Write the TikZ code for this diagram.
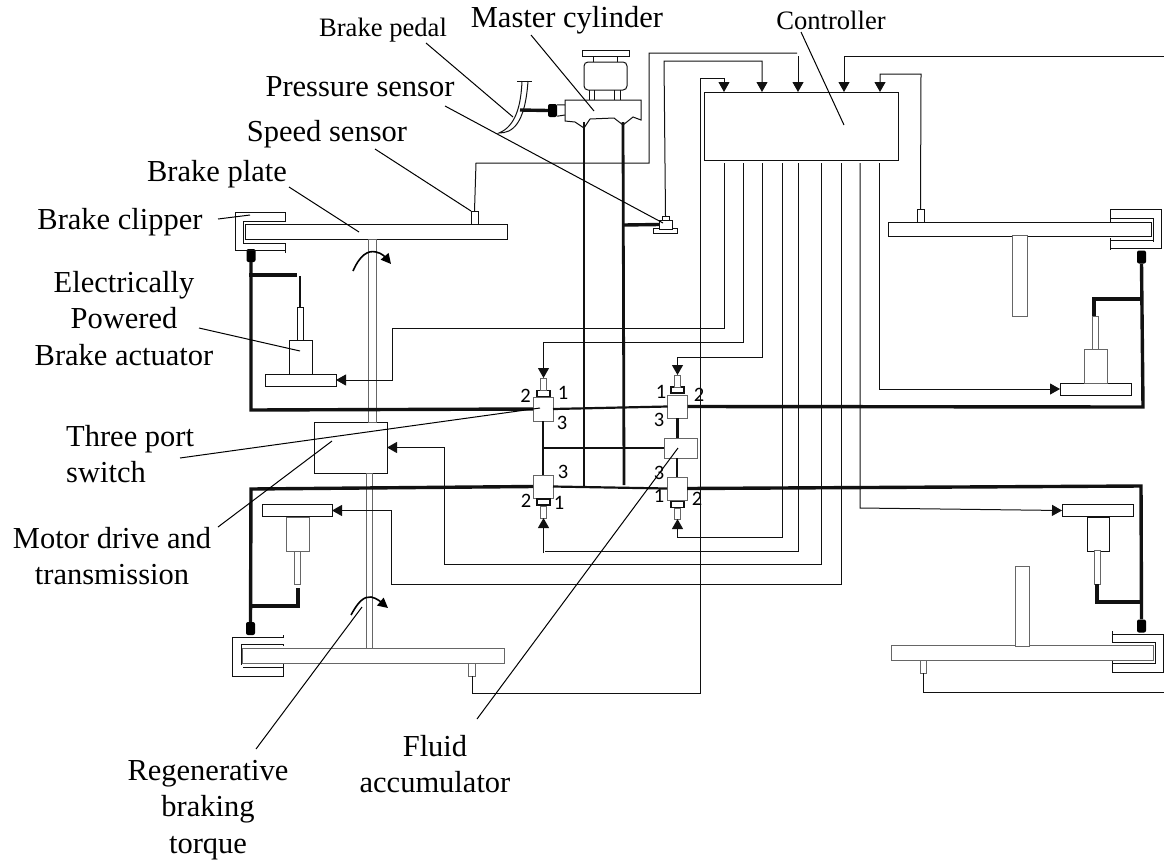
\documentclass[tikz,border=0pt]{standalone}
\usepackage{fontspec}
\setmainfont{Liberation Serif}
\newfontfamily\numfont{Carlito}
\usetikzlibrary{positioning, arrows.meta, calc}
\definecolor{lineblack}{HTML}{111111}
\definecolor{linegray}{HTML}{666666}
\tikzset{
  part/.style={draw=lineblack, fill=white, line width=1pt, inner sep=0pt, outer sep=0pt},
  gpart/.style={part, draw=linegray},
  nub/.style={fill=black, rounded corners=2pt, inner sep=0pt, minimum width=9pt, minimum height=13pt},
  pipe/.style={line width=3.4pt, draw=lineblack},
  midpipe/.style={line width=2.2pt, draw=lineblack},
  mcpipe/.style={line width=2.8pt, draw=lineblack},
  sig/.style={line width=1pt, draw=lineblack},
  arr/.style={sig, -{Triangle[length=10pt,width=11pt]}},
  lead/.style={line width=1pt, draw=black},
  lbl/.style={font=\fontsize{30.5}{36.5}\selectfont, inner sep=0pt, anchor=base, align=center},
  mlbl/.style={lbl, anchor=north},
  slbl/.style={font=\fontsize{26.6}{30}\selectfont, inner sep=0pt, anchor=base},
  num/.style={font=\numfont\fontsize{20.5}{22}\selectfont, inner sep=0pt}
}
\begin{document}
\begin{tikzpicture}[x=1pt, y=-1pt]
    \useasboundingbox (0,0) rectangle (1164,865);

    \node[part, minimum width=194pt, minimum height=68pt] (ctrl) at (801,126) {};
    \node[part, minimum width=73pt, minimum height=51pt] (motor) at (350.5,447.5) {};

    \node[part, minimum width=262pt, minimum height=15pt] (dfl) at (376,231.5) {};
    \node[part, minimum width=263pt, minimum height=14pt] (dfr) at (1019.5,229) {};
    \node[gpart, minimum width=262pt, minimum height=15pt] (drl) at (373,655.5) {};
    \node[gpart, minimum width=262pt, minimum height=15pt] (drr) at (1022,652.5) {};
    \node[gpart, minimum width=8pt, minimum height=183pt] (sfl) at (372,330.5) {};
    \node[gpart, minimum width=6pt, minimum height=175pt] (srl) at (369,560.5) {};
    \node[gpart, minimum width=15pt, minimum height=81pt] (sfr) at (1019.5,275.5) {};
    \node[gpart, minimum width=14pt, minimum height=80pt] (srr) at (1022,606) {};

    \node[part, minimum width=71pt, minimum height=12pt] (pfl) at (300.5,380) {};
    \node[part, minimum width=23pt, minimum height=34pt] (bfl) at (300.5,357) {};
    \node[part, minimum width=6pt, minimum height=33pt] (rfl) at (300,323.5) {};
    \node[part, minimum width=71pt, minimum height=12pt] (pfr) at (1095.5,389) {};
    \node[gpart, minimum width=23pt, minimum height=34pt] (bfr) at (1095.5,366) {};
    \node[gpart, minimum width=6pt, minimum height=33pt] (rfr) at (1095,332.5) {};
    \node[part, minimum width=70pt, minimum height=12pt] (prl) at (297,510.5) {};
    \node[gpart, minimum width=23pt, minimum height=34pt] (brl) at (297.5,534) {};
    \node[gpart, minimum width=6pt, minimum height=33pt] (rrl) at (297.5,567.5) {};
    \node[part, minimum width=71pt, minimum height=12pt] (prr) at (1097.5,510.5) {};
    \node[part, minimum width=22pt, minimum height=34pt] (brr) at (1098,534) {};
    \node[gpart, minimum width=6pt, minimum height=34pt] (rrr) at (1097,567) {};

    \node[nub] (nfl) at (251,255.5) {};
    \node[nub] (nfr) at (1141.5,257) {};
    \node[nub] (nrl) at (250.5,628.5) {};
    \node[nub] (nrr) at (1141.5,626) {};

    \node[part, minimum width=7pt, minimum height=13pt] (sefl) at (474.5,217.5) {};
    \node[part, minimum width=7pt, minimum height=13pt] (sefr) at (920.5,215.5) {};
    \node[gpart, minimum width=7pt, minimum height=13pt] (serl) at (472,669.5) {};
    \node[gpart, minimum width=6pt, minimum height=13pt] (serr) at (923,666.5) {};

    \node[part, minimum width=24pt, minimum height=4.5pt] (psb) at (665,231) {};
    \node[part, minimum width=13pt, minimum height=9pt] (psm) at (665.5,224.5) {};
    \node[part, minimum width=7pt, minimum height=4pt] (pst) at (665.5,218) {};

    \node[part, minimum width=47pt, minimum height=6pt] (rcap) at (605.5,53) {};
    \node[part, minimum width=24pt, minimum height=6pt] (rneck) at (605,59) {};
    \node[part, rounded corners=4pt, minimum width=43pt, minimum height=28pt] (rtank) at (605.5,76) {};
    \node[nub, minimum width=9pt, minimum height=13pt] (mcn) at (552.5,110.5) {};

    \node[gpart, minimum width=20pt, minimum height=24pt] (v1) at (543,409) {};
    \node[part, line width=1.3pt, minimum width=13pt, minimum height=6pt] (v1c) at (543.5,393.5) {};
    \node[gpart, minimum width=6pt, minimum height=12pt] (v1p) at (543.5,384) {};
    \node[gpart, minimum width=20pt, minimum height=23pt] (v2) at (677.5,406.5) {};
    \node[part, line width=1.3pt, minimum width=13pt, minimum height=6pt] (v2c) at (677.5,390) {};
    \node[gpart, minimum width=6pt, minimum height=12pt] (v2p) at (677.5,381) {};
    \node[gpart, minimum width=20pt, minimum height=23pt] (v3) at (543,486.5) {};
    \node[part, line width=1.3pt, minimum width=13pt, minimum height=6pt] (v3c) at (543.5,502) {};
    \node[gpart, minimum width=6pt, minimum height=12pt] (v3p) at (543.5,512) {};
    \node[gpart, minimum width=20pt, minimum height=23pt] (v4) at (677,488.5) {};
    \node[part, line width=1.3pt, minimum width=13pt, minimum height=6pt] (v4c) at (677.5,504.5) {};
    \node[gpart, minimum width=6pt, minimum height=11pt] (v4p) at (677.5,513.5) {};
    \node[gpart, minimum width=33pt, minimum height=20pt] (acc) at (680.5,448) {};

    \node[num] (n11) at (563,393) {1};
    \node[num] (n12) at (525.5,396) {2};
    \node[num] (n13) at (562,423) {3};
    \node[num] (n21) at (661,392) {1};
    \node[num] (n22) at (699,395) {2};
    \node[num] (n23) at (659,420) {3};
    \node[num] (n31) at (559,503) {1};
    \node[num] (n32) at (526,501) {2};
    \node[num] (n33) at (563,472) {3};
    \node[num] (n41) at (659,496) {1};
    \node[num] (n42) at (697,499) {2};
    \node[num] (n43) at (659,473) {3};

    \coordinate (cin1) at (724,92);
    \coordinate (cin2) at (762,92);
    \coordinate (cin3) at (798,92);
    \coordinate (cin4) at (844,92);
    \coordinate (cin5) at (880,92);
    \coordinate (cout1) at (724,163);
    \coordinate (cout2) at (743,163);
    \coordinate (cout3) at (762,163);
    \coordinate (cout4) at (782,163);
    \coordinate (cout5) at (798,163);
    \coordinate (cout6) at (821,163);
    \coordinate (cout7) at (841,163);
    \coordinate (cout8) at (860,163);
    \coordinate (cout9) at (879,163);
    \coordinate (edgea) at (1164,56);
    \coordinate (edgeb) at (1164,692);
    \coordinate (mcl) at (584,122);
    \coordinate (mcr) at (623,122);
    \coordinate (lbot) at (584,486);
    \coordinate (rbot) at (624,485);

    \draw[line width=1pt, draw=lineblack] (565,100) -- (641,100) -- (641,120) -- (633,117) -- (623,125)
        -- (614,118) -- (590,119) -- (584,128) -- (575,122) -- (565,121) -- cycle;
    \draw[sig] (589,90) -- (589,100) (594,90) -- (594,100) (614,90) -- (614,100) (620,90) -- (620,100);
    \draw[sig] (mcn.north east) ++(0,1) -- (565,105) (mcn.south east) ++(0,-1) -- (565,115);
    \draw[sig] (517,81) -- (532,81);
    \draw[sig] (522,81) .. controls (521,105) and (516,126) .. (499,133)
        .. controls (512,133) and (525,125) .. (528,81);
    \draw[pipe] (520,110) -- (mcn.west);
    \draw[mcpipe] (mcl) -- (lbot);
    \draw[mcpipe] (mcr) -- (rbot);
    \draw[pipe] (624,225) -- (psm.west);

    \draw[sig] (285,222) -- (285,212) -- (235,212) -- (235,250) -- (285,250);
    \draw[sig] (285,221) -- (243,221) -- (243,243) -- (285,243);
    \draw[sig] (285,243) -- (285,253);
    \draw[sig] (1110,222) -- (1110,209) -- (1161,209) -- (1161,248) -- (1110,248);
    \draw[sig] (1110,218) -- (1153,218) -- (1153,242);
    \draw[sig] (1153,240) -- (1110,240);
    \draw[sig] (1110,238) -- (1110,250);
    \draw[sig] (283,635) -- (283,637) -- (232,637) -- (232,676) -- (283,676) -- (283,664);
    \draw[sig] (283,646) -- (283,644) -- (241,644) -- (241,665);
    \draw[sig] (243,667) -- (283,667);
    \draw[sig] (1112,631) -- (1112,643);
    \draw[sig] (1112,634) -- (1163,634) -- (1163,672) -- (1112,672) -- (1112,661);
    \draw[sig] (1112,642) -- (1155,642) -- (1155,663) -- (1112,663);

    \draw[pipe] (nfl.south) -- (251,410) -- (v1.west);
    \draw[pipe] (v2.east) -- (1143,407) -- (nfr.south);
    \draw[pipe] (nrl.north) -- (251,489) -- (v3.west);
    \draw[pipe] (v4.east) -- (1141,486) -- (nrr.north);
    \draw[midpipe] (v1.east) -- (v2.west);
    \draw[midpipe] (v3.east) -- (v4.west);
    \draw[midpipe] (v1.south) -- (v3.north);
    \draw[midpipe] (v2.south) -- (acc.north -| v2.south);
    \draw[midpipe] (acc.south -| v4.north) -- (v4.north);
    \draw[midpipe] (542,448) -- (acc.west);
    \draw[pipe] (249,275) -- (297,275);
    \draw[midpipe] (300,276) -- (rfl.north);
    \draw[pipe] (1143,299) -- (1094,299) -- (rfr.north -| 1094,0);
    \draw[pipe] (rrl.south -| 298,0) ++(0,4) -- (298,606) -- (251,606);
    \draw[pipe] (rrr.south) -- (1097,602) -- (1143,602);

    \draw[sig] (sefl.north) -- (476,163) -- (649,163) -- (649,53) -- (797,53);
    \draw[arr] (798,56) -- (cin3);
    \draw[arr] (pst.north) -- (664,61) -| (cin2);
    \draw[arr] (serl.south) |- (700,693) -- (700,78) -| (cin1);
    \draw[arr] (edgea) -| (cin4);
    \draw[arr] (sefr.north) -- (921,74) -| (cin5);
    \draw[sig] (serr.south) |- (edgeb);

    \draw[arr] (cout1) -- (724,328) -- (392,328) |- (pfl.east);
    \draw[arr] (cout2) -- (743,342) -| (v1p.north);
    \draw[arr] (cout3) -- (762,357) -| (v2p.north);
    \draw[arr] (cout4) -- (782,537) -| (v4p.south);
    \draw[sig] (cout5) -- (798,551) -- (545,551);
    \draw[arr] (543.5,553) -- (v3p.south);
    \draw[arr] (cout6) -- (821,564) -- (444,564) |- (motor.east);
    \draw[arr] (cout7) -- (841,584) -- (391,584) |- (prl.east);
    \draw[arr] (cout8) -- (860,508) -- (prr.west);
    \draw[arr] (cout9) -- (879,389) -- (pfr.west);

    \draw[line width=1.6pt, -{Triangle[length=10pt,width=10pt]}] (353,271) .. controls (360,255) and (368,250) .. (376,252) .. controls (382,253) and (386,258) .. (391,264);
    \draw[line width=1.6pt, -{Triangle[length=10pt,width=10pt]}] (351,615) .. controls (358,602) and (364,596) .. (371,597) .. controls (377,598) and (382,603) .. (388,608);

    \node[slbl] (lpedal) at (383,36) {Brake pedal};
    \node[lbl] (lmaster) at (567,27) {Master cylinder};
    \node[slbl] (lctrl) at (831,29) {Controller};
    \node[lbl] (lpress) at (360,96) {Pressure sensor};
    \node[lbl] (lspeed) at (327,141) {Speed sensor};
    \node[lbl] (lplate) at (217,181) {Brake plate};
    \node[lbl] (lclip) at (120,229) {Brake clipper};
    \node[mlbl] (lelec) at (124,271) {Electrically\\Powered\\Brake actuator};
    \node[mlbl, align=left, anchor=north west] (lport) at (66,425) {Three port\\switch};
    \node[mlbl] (lmotor) at (112,527) {Motor drive and\\transmission};
    \node[mlbl] (lregen) at (208,760) {Regenerative\\braking\\torque};
    \node[mlbl] (lfluid) at (435,735) {Fluid\\accumulator};

    \coordinate (epedal) at (513,117);
    \coordinate (emaster) at (594,111);
    \coordinate (ectrl) at (844,125);
    \coordinate (epress) at (663,223);
    \coordinate (espeed) at (471,211);
    \coordinate (eplate) at (359,232);
    \coordinate (eclip) at (250,215);
    \coordinate (eelec) at (300,351);
    \coordinate (eport) at (540,408);
    \coordinate (emotor) at (332,441);
    \coordinate (eregen) at (362,607);
    \coordinate (efluid) at (678,448);

    \draw[lead] (426,43) -- (epedal);
    \draw[lead] (531,35) -- (emaster);
    \draw[lead] (801,32) -- (ectrl);
    \draw[lead] (445,106) -- (epress);
    \draw[lead] (375,149) -- (espeed);
    \draw[lead] (289,187) -- (eplate);
    \draw[lead] (218,219) -- (eclip);
    \draw[lead] (199,328) -- (eelec);
    \draw[lead] (180,458) -- (eport);
    \draw[lead] (218,527) -- (emotor);
    \draw[lead] (256,749) -- (eregen);
    \draw[lead] (477,719) -- (efluid);
  \end{tikzpicture}
\end{document}
